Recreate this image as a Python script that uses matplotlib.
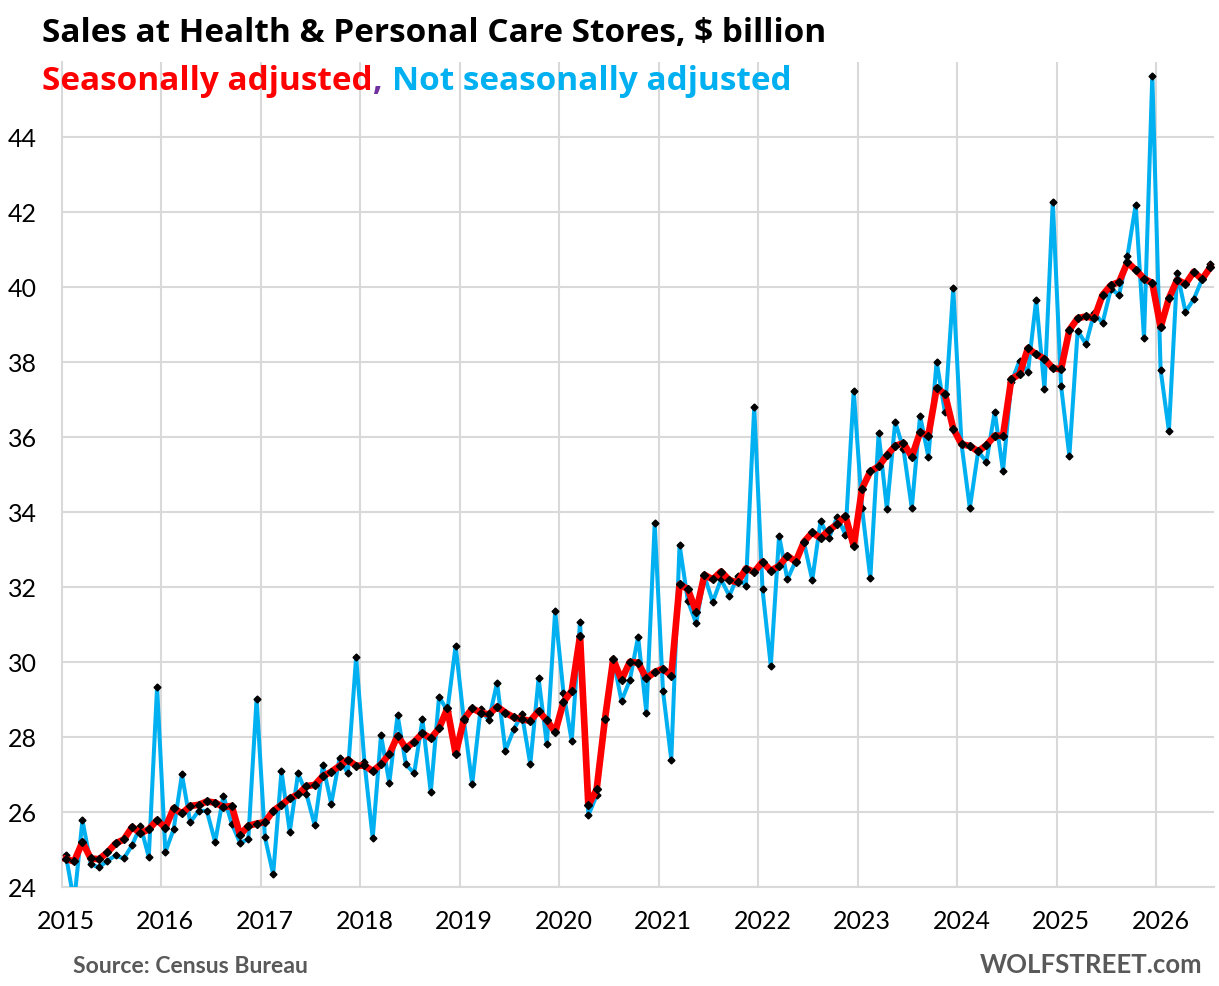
import numpy as np
import matplotlib
matplotlib.use("Agg")
import matplotlib.pyplot as plt

plt.rcParams["font.family"] = ["Lato", "DejaVu Sans"]
head_font = ["Open Sans", "DejaVu Sans"]

W, H = 1219, 987

years = [str(y) for y in range(2015, 2027)]

# monthly, Jan 2015 .. Jul 2026, $ billion
sa = [
    24.75, 24.68, 25.20, 24.76, 24.74, 24.92, 25.16, 25.27, 25.60, 25.43, 25.54, 25.78,
    25.58, 26.10, 25.96, 26.16, 26.19, 26.28, 26.25, 26.13, 26.16, 25.39, 25.63, 25.69,
    25.73, 26.03, 26.19, 26.36, 26.47, 26.69, 26.72, 26.96, 27.07, 27.23, 27.39, 27.23,
    27.24, 27.09, 27.27, 27.54, 28.03, 27.70, 27.87, 28.10, 27.96, 28.23, 28.76, 27.55,
    28.47, 28.76, 28.65, 28.60, 28.81, 28.65, 28.52, 28.47, 28.43, 28.69, 28.44, 28.13,
    28.93, 29.23, 30.69, 26.18, 26.60, 28.47, 30.07, 29.52, 30.00, 29.98, 29.56, 29.73,
    29.82, 29.63, 32.07, 31.94, 31.34, 32.32, 32.20, 32.41, 32.18, 32.12, 32.49, 32.40,
    32.67, 32.43, 32.56, 32.83, 32.67, 33.20, 33.45, 33.30, 33.51, 33.67, 33.89, 33.09,
    34.62, 35.08, 35.21, 35.51, 35.76, 35.83, 35.47, 36.12, 36.03, 37.30, 37.14, 36.22,
    35.80, 35.76, 35.61, 35.78, 36.03, 36.03, 37.54, 37.67, 38.36, 38.20, 38.08, 37.83,
    37.80, 38.85, 39.16, 39.21, 39.16, 39.78, 40.04, 40.13, 40.65, 40.45, 40.22, 40.10,
    38.92, 39.69, 40.19, 40.07, 40.40, 40.20, 40.52,
]
nsa = [
    24.85, 23.60, 25.78, 24.61, 24.52, 24.70, 24.84, 24.76, 25.12, 25.63, 24.80, 29.33,
    24.93, 25.54, 27.00, 25.72, 26.03, 26.03, 25.20, 26.43, 25.69, 25.18, 25.27, 29.02,
    25.33, 24.34, 27.09, 25.47, 27.03, 26.49, 25.65, 27.24, 26.22, 27.43, 27.03, 30.13,
    27.34, 25.30, 28.05, 26.78, 28.58, 27.27, 27.03, 28.47, 26.52, 29.07, 28.70, 30.43,
    28.43, 26.74, 28.74, 28.45, 29.45, 27.63, 28.20, 28.60, 27.27, 29.56, 27.80, 31.36,
    29.18, 27.89, 31.07, 25.91, 26.44, 28.47, 30.07, 28.96, 29.51, 30.67, 28.65, 33.69,
    29.23, 27.39, 33.12, 31.63, 31.03, 32.29, 31.60, 32.20, 31.76, 32.28, 32.03, 36.80,
    31.94, 29.89, 33.36, 32.20, 32.69, 33.18, 32.18, 33.76, 33.29, 33.87, 33.39, 37.23,
    34.10, 32.23, 36.09, 34.07, 36.40, 35.67, 34.10, 36.56, 35.47, 38.00, 36.65, 39.96,
    35.80, 34.10, 35.61, 35.34, 36.67, 35.09, 37.45, 38.03, 37.72, 39.65, 37.27, 42.27,
    37.36, 35.49, 38.83, 38.47, 39.31, 39.03, 39.94, 39.79, 40.81, 42.19, 38.63, 45.63,
    37.79, 36.16, 40.38, 39.33, 39.67, 40.20, 40.60,
]

x = np.arange(len(sa))

fig = plt.figure(figsize=(W / 100, H / 100), dpi=100)
ax = fig.add_axes([61.7 / W, 1 - 888 / H, (1214.5 - 61.7) / W, (888 - 62.7) / H])

ax.plot(x, nsa, color="#00B0F0", lw=2.9, marker="D", ms=3.5,
        mfc="black", mec="black", zorder=3)
ax.plot(x, sa, color="#FF0000", lw=4.8, marker="D", ms=4.5,
        mfc="black", mec="black", zorder=4)

ax.set_xlim(-0.5, len(sa) - 0.5)
ax.set_ylim(24, 46)
ax.set_yticks(np.arange(24, 45, 2))
ax.set_xticks(np.arange(0, len(sa), 12))
ax.set_xticklabels(years)
ax.set_xticks(np.arange(11.5, len(sa), 12), minor=True)
ax.grid(axis="y", color="#D9D9D9", lw=1.5, zorder=0)
ax.grid(axis="x", which="minor", color="#D9D9D9", lw=1.5, zorder=0)
ax.set_axisbelow(True)
ax.tick_params(which="both", length=0)
ax.tick_params(axis="y", labelsize=18, pad=18)
ax.tick_params(axis="x", labelsize=18, pad=16)
for s in ["top", "right"]:
    ax.spines[s].set_visible(False)
for s in ["left", "bottom"]:
    ax.spines[s].set_color("#D9D9D9")
    ax.spines[s].set_linewidth(1.5)

fig.text(42 / W, 1 - 41.7 / H, "Sales at Health & Personal Care Stores, $ billion",
         fontsize=24, fontweight="bold", color="black", va="baseline",
         family=head_font)

t1 = fig.text(42 / W, 1 - 90 / H, "Seasonally adjusted", fontsize=24,
              fontweight="bold", color="#FF0000", va="baseline", family=head_font)
t2 = ax.annotate(",", xy=(1, 0), xycoords=t1, va="bottom", ha="left",
                 fontsize=24, fontweight="bold", color="#7030A0", family=head_font)
ax.annotate("Not seasonally adjusted", xy=(1, 0), xycoords=t2,
            xytext=(7, 0), textcoords="offset points", va="bottom", ha="left",
            fontsize=24, fontweight="bold", color="#00B0F0", family=head_font)

fig.text(73 / W, 1 - 973 / H, "Source: Census Bureau", fontsize=16.6,
         fontweight="bold", color="#595959", va="baseline")
fig.text(1202 / W, 1 - 972.7 / H, "WOLFSTREET.com", fontsize=18.5,
         fontweight="bold", color="#595959", va="baseline", ha="right")

fig.savefig("out.png", dpi=100)
